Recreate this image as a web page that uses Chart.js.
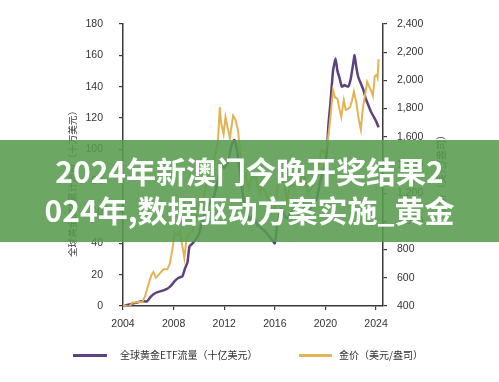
<!DOCTYPE html>
<html><head><meta charset="utf-8">
<script src="https://cdn.jsdelivr.net/npm/chart.js@4"></script>
<style>
html,body{margin:0;padding:0;background:#fff;}
#wrap{position:relative;width:499px;height:382px;overflow:hidden;font-family:"Noto Sans CJK SC","Noto Sans",sans-serif;}
#c{position:absolute;left:0;top:0;}
.lg-line{position:absolute;height:3px;}
.lg-text{position:absolute;font-size:10px;color:#333;line-height:14px;white-space:nowrap;}
#banner{position:absolute;left:0;top:140px;width:499px;height:102px;background:rgba(88,156,79,0.88);
  color:#fff;font-weight:bold;font-size:30px;line-height:39px;text-align:center;font-family:"Noto Sans CJK SC",sans-serif;}
#banner div{white-space:nowrap;}
</style>
</head><body>
<div id="wrap">
<canvas id="c" width="499" height="382"></canvas>
<div class="lg-line" style="left:73px;top:354px;width:34px;background:#5e4280;"></div>
<div class="lg-text" style="left:120px;top:348px;">全球黄金ETF流量（十亿美元）</div>
<div class="lg-line" style="left:299px;top:354px;width:33px;background:#e2b455;"></div>
<div class="lg-text" style="left:339px;top:348px;">金价（美元/盎司）</div>
<div id="banner"><div style="padding-top:11px">2024年新澳门今晚开奖结果2</div><div>024年,数据驱动方案实施_黄金</div></div>
</div>
<script>
// ---- data ----
const xTickYears = [2004, 2008, 2012, 2016, 2020, 2024];
const leftTicks = [0, 20, 40, 60, 80, 100, 120, 140, 160, 180];
const rightTicks = [400, 600, 800, 1000, 1200, 1400, 1600, 1800, 2000, 2200, 2400];

const goldYears = [2004.0,2004.25,2004.5,2004.75,2005.0,2005.25,2005.5,2005.75,2006.0,2006.25,2006.4,2006.6,2006.9,2007.2,2007.5,2007.7,2007.9,2008.1,2008.3,2008.5,2008.7,2008.85,2009.0,2009.2,2009.5,2009.8,2009.95,2010.2,2010.5,2010.8,2011.0,2011.3,2011.5,2011.65,2011.75,2011.95,2012.1,2012.3,2012.45,2012.7,2012.9,2013.1,2013.3,2013.5,2013.7,2013.95,2014.2,2014.5,2014.8,2015.0,2015.3,2015.6,2015.95,2016.2,2016.5,2016.75,2016.95,2017.2,2017.5,2017.7,2017.95,2018.2,2018.4,2018.65,2018.95,2019.2,2019.45,2019.7,2019.95,2020.2,2020.35,2020.6,2020.75,2020.95,2021.1,2021.25,2021.45,2021.6,2021.8,2021.95,2022.1,2022.25,2022.45,2022.6,2022.8,2022.95,2023.1,2023.3,2023.45,2023.6,2023.75,2023.9,2024.05,2024.12,2024.2];
const goldPrice = [410,400,395,425,425,430,425,470,550,620,640,600,630,660,660,700,800,920,900,930,820,740,860,920,930,1040,1120,1110,1220,1340,1370,1480,1560,1810,1700,1620,1740,1650,1590,1750,1720,1640,1450,1250,1340,1230,1320,1310,1200,1250,1200,1120,1070,1240,1340,1270,1150,1250,1250,1320,1270,1340,1300,1200,1250,1300,1400,1510,1480,1580,1700,1930,1880,1870,1800,1740,1860,1790,1800,1810,1860,1920,1840,1740,1650,1800,1880,1990,1960,1930,1890,2030,2040,2020,2150];

const etfYears = [2004.0,2004.5,2005.0,2005.5,2005.9,2006.2,2006.5,2006.8,2007.2,2007.5,2007.8,2008.1,2008.4,2008.7,2008.9,2009.1,2009.25,2009.5,2009.8,2010.0,2010.3,2010.6,2010.9,2011.2,2011.5,2011.8,2012.0,2012.3,2012.6,2012.8,2013.0,2013.3,2013.5,2013.8,2014.0,2014.3,2014.6,2014.9,2015.2,2015.5,2015.8,2016.0,2016.2,2016.5,2016.8,2017.0,2017.3,2017.6,2017.9,2018.2,2018.5,2018.8,2019.0,2019.3,2019.6,2019.9,2020.1,2020.25,2020.4,2020.6,2020.8,2020.95,2021.1,2021.3,2021.5,2021.8,2022.0,2022.2,2022.3,2022.45,2022.6,2022.8,2023.0,2023.2,2023.4,2023.6,2023.8,2024.0,2024.2];
const etfFlows = [0,1,2,3,3,6,8,9,10,11,13,16,18,19,24,28,38,40,43,46,55,62,66,70,80,90,88,92,103,106,100,82,70,60,55,58,52,50,48,45,42,40,52,62,57,56,60,62,64,66,60,62,66,68,80,88,98,117,130,150,158,150,146,140,141,140,145,155,160,152,146,142,138,132,128,124,121,118,114];

const leftTitle = "全球黄金ETF累计流量（十万美元）";
const rightTitle = "金价（美元/盎司）";

const goldData = goldYears.map((x, i) => ({x, y: goldPrice[i]}));
const etfData = etfYears.map((x, i) => ({x, y: etfFlows[i]}));

const axisColor = '#3a3a3a';
const tickFont = {family: '"Liberation Sans", Arial, sans-serif', size: 10.5};

const titlePlugin = {
  id: 'titles',
  afterDraw(chart) {
    const ctx = chart.ctx;
    ctx.save();
    ctx.fillStyle = '#333';
    ctx.font = '9.6px "Noto Sans CJK SC", sans-serif';
    ctx.textBaseline = 'middle';
    ctx.save();
    ctx.translate(72, 257);
    ctx.rotate(-Math.PI / 2);
    ctx.textAlign = 'left';
    ctx.fillText(leftTitle, 0, 0);
    ctx.restore();
    ctx.save();
    ctx.font = '10px "Noto Sans CJK SC", sans-serif';
    ctx.translate(441, 130);
    ctx.rotate(-Math.PI / 2);
    ctx.textAlign = 'right';
    ctx.fillText(rightTitle, 0, 0);
    ctx.restore();
    ctx.restore();
  }
};

new Chart(document.getElementById('c'), {
  type: 'line',
  data: {
    datasets: [
      {label: '金价（美元/盎司）', data: goldData, yAxisID: 'y2', borderColor: '#e2b455', borderWidth: 2, pointRadius: 0, tension: 0, order: 1},
      {label: '全球黄金ETF流量（十亿美元）', data: etfData, yAxisID: 'y', borderColor: '#5e4280', borderWidth: 2.5, pointRadius: 0, tension: 0.15, order: 2}
    ]
  },
  options: {
    responsive: false,
    animation: false,
    layout: {padding: {top: 24, left: 0, right: 0, bottom: 0}},
    plugins: {legend: {display: false}, tooltip: {enabled: false}},
    scales: {
      x: {
        type: 'linear', position: 'bottom', min: 2004, max: 2024.55,
        afterBuildTicks: s => { s.ticks = xTickYears.map(v => ({value: v})); },
        afterFit: s => { s.height = 76; },
        grid: {display: true, drawOnChartArea: false, drawTicks: true, tickLength: 4, color: axisColor, lineWidth: 1.2},
        border: {display: true, color: axisColor, width: 1.5},
        ticks: {padding: 8, font: tickFont, color: '#333', maxRotation: 0, autoSkip: false, callback: v => String(v)}
      },
      y: {
        type: 'linear', position: 'left', min: 0, max: 180,
        afterBuildTicks: s => { s.ticks = leftTicks.map(v => ({value: v})); },
        afterFit: s => { s.width = 123; },
        grid: {display: true, drawOnChartArea: false, drawTicks: true, tickLength: 4, color: axisColor, lineWidth: 1.2},
        border: {display: true, color: axisColor, width: 1.5},
        ticks: {padding: 16, font: tickFont, color: '#333', callback: v => String(v)}
      },
      y2: {
        type: 'linear', position: 'right', min: 400, max: 2400,
        afterBuildTicks: s => { s.ticks = rightTicks.map(v => ({value: v})); },
        afterFit: s => { s.width = 116; },
        grid: {display: true, drawOnChartArea: false, drawTicks: true, tickLength: 4, color: axisColor, lineWidth: 1.2},
        border: {display: true, color: axisColor, width: 1.5},
        ticks: {padding: 10, font: tickFont, color: '#333', callback: v => v.toLocaleString('en-US')}
      }
    }
  },
  plugins: [titlePlugin]
});
</script>
</body></html>
